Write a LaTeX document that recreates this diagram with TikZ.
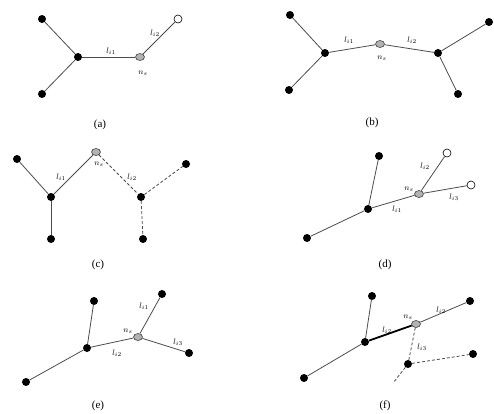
\documentclass[tikz,border=0pt]{standalone}
\usepackage{fontspec}
\setmainfont{Liberation Serif}
\usetikzlibrary{shapes.geometric}
\tikzset{
  blk/.style={circle, fill=black, inner sep=0pt, minimum size=8pt},
  opn/.style={circle, draw=black, fill=white, inner sep=0pt, minimum size=8pt, line width=0.6pt},
  gry/.style={ellipse, draw=black!75, fill=black!30, inner sep=0pt, minimum width=9pt, minimum height=7pt, line width=0.6pt},
  edg/.style={draw=black!70, line width=0.8pt},
  dsh/.style={edg, dash pattern=on 3pt off 2pt},
  thk/.style={draw=black, line width=1.8pt},
  lbl/.style={inner sep=0pt, font=\fontsize{8}{9}\selectfont},
  capt/.style={inner sep=0pt, font=\fontsize{11}{13}\selectfont}
}
\begin{document}
\begin{tikzpicture}[x=1pt,y=-1pt]
\useasboundingbox[fill=white] (0,0) rectangle (494,413);
% (a)
\node[blk] (a1) at (42,19) {};
\node[blk] (a2) at (78,57) {};
\node[blk] (a3) at (42,94) {};
\node[gry] (a4) at (140,57) {};
\node[opn] (a5) at (178,19) {};
\draw[edg] (a1) -- (a2);
\draw[edg] (a3) -- (a2);
\draw[edg] (a2) -- (a4);
\draw[edg] (a4) -- (a5);
\node[lbl] (la1) at (111,51) {$l_{i1}$};
\node[lbl] (la2) at (155,33) {$l_{i2}$};
\node[lbl] (lan) at (143,73) {$n_s$};
\node[capt] (ca) at (100,125) {(a)};
% (b)
\node[blk] (b1) at (290,15) {};
\node[blk] (b2) at (325,53) {};
\node[blk] (b3) at (289,90) {};
\node[gry] (b4) at (380,44) {};
\node[blk] (b5) at (438,53) {};
\node[blk] (b6) at (489,22) {};
\node[blk] (b7) at (458,94) {};
\draw[edg] (b1) -- (b2);
\draw[edg] (b3) -- (b2);
\draw[edg] (b2) -- (b4);
\draw[edg] (b4) -- (b5);
\draw[edg] (b5) -- (b6);
\draw[edg] (b5) -- (b7);
\node[lbl] (lb1) at (349,40) {$l_{i1}$};
\node[lbl] (lb2) at (412,40) {$l_{i2}$};
\node[lbl] (lbn) at (382,58) {$n_s$};
\node[capt] (cb) at (372,123) {(b)};
% (c)
\node[blk] (c1) at (17,159) {};
\node[blk] (c2) at (51,197) {};
\node[blk] (c3) at (51,239) {};
\node[gry] (c4) at (96,152) {};
\node[blk] (c5) at (141,197) {};
\node[blk] (c6) at (143,239) {};
\node[blk] (c7) at (186,164) {};
\draw[edg] (c1) -- (c2);
\draw[edg] (c2) -- (c3);
\draw[edg] (c2) -- (c4);
\draw[dsh] (c4) -- (c5);
\draw[dsh] (c5) -- (c7);
\draw[dsh] (c5) -- (c6);
\node[lbl] (lc1) at (61,177) {$l_{i1}$};
\node[lbl] (lcn) at (99,164) {$n_s$};
\node[lbl] (lc2) at (132,177) {$l_{i2}$};
\node[capt] (cc) at (98,265) {(c)};
% (d)
\node[blk] (d1) at (379,156) {};
\node[blk] (d2) at (368,209) {};
\node[blk] (d3) at (307,238) {};
\node[gry] (d4) at (419,194) {};
\node[opn] (d5) at (447,153) {};
\node[opn] (d6) at (471,185) {};
\draw[edg] (d1) -- (d2);
\draw[edg] (d3) -- (d2);
\draw[edg] (d2) -- (d4);
\draw[edg] (d4) -- (d5);
\draw[edg] (d4) -- (d6);
\node[lbl] (ldn) at (409,189) {$n_s$};
\node[lbl] (ld2) at (425,166) {$l_{i2}$};
\node[lbl] (ld3) at (454,197) {$l_{i3}$};
\node[lbl] (ld1) at (397,209) {$l_{i1}$};
\node[capt] (cd) at (385,265) {(d)};
% (e)
\node[blk] (e1) at (94,301) {};
\node[blk] (e2) at (87,348) {};
\node[blk] (e3) at (26,382) {};
\node[gry] (e4) at (138,337) {};
\node[blk] (e5) at (162,294) {};
\node[blk] (e6) at (189,353) {};
\draw[edg] (e1) -- (e2);
\draw[edg] (e3) -- (e2);
\draw[edg] (e2) -- (e4);
\draw[edg] (e4) -- (e5);
\draw[edg] (e4) -- (e6);
\node[lbl] (le1) at (144,306) {$l_{i1}$};
\node[lbl] (len) at (128,331) {$n_s$};
\node[lbl] (le2) at (117,353) {$l_{i2}$};
\node[lbl] (le3) at (178,342) {$l_{i3}$};
\node[capt] (ce) at (98,406) {(e)};
% (f)
\node[blk] (f1) at (372,296) {};
\node[blk] (f2) at (365,342) {};
\node[blk] (f3) at (304,378) {};
\node[gry] (f4) at (416,324) {};
\node[blk] (f5) at (470,301) {};
\node[blk] (f6) at (408,364) {};
\node[blk] (f7) at (473,354) {};
\coordinate (f8) at (393,383);
\draw[edg] (f1) -- (f2);
\draw[edg] (f3) -- (f2);
\draw[thk] (f2) -- (f4);
\draw[edg] (f4) -- (f5);
\draw[dsh] (f4) -- (f6);
\draw[dsh] (f6) -- (f7);
\draw[dsh] (f6) -- (f8);
\node[lbl] (lfn) at (408,317) {$n_s$};
\node[lbl] (lf1) at (387,330) {$l_{i2}$};
\node[lbl] (lf2) at (441,310) {$l_{i2}$};
\node[lbl] (lf3) at (422,347) {$l_{i3}$};
\node[capt] (cf) at (385,406) {(f)};
\end{tikzpicture}
\end{document}
